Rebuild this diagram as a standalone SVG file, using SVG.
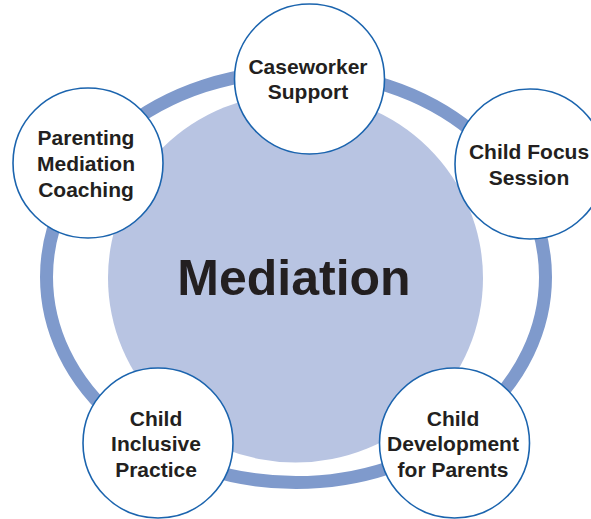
<svg xmlns="http://www.w3.org/2000/svg" width="591" height="519" viewBox="0 0 591 519">
  <style>
    .node { fill: #ffffff; stroke: #1b64ae; stroke-width: 1.6; }
    .lbl { font-family: "Liberation Sans", Arial, sans-serif; font-weight: bold; font-size: 21px; fill: #231f20; text-anchor: middle; }
    .big { font-family: "Liberation Sans", Arial, sans-serif; font-weight: bold; font-size: 50px; fill: #231f20; text-anchor: middle; }
  </style>
  <rect width="591" height="519" fill="#ffffff"/>
  <g id="ring">
    <ellipse cx="296" cy="277" rx="249.5" ry="205.5" fill="none" stroke="#7f9acc" stroke-width="13"/>
  </g>
  <g id="center">
    <ellipse cx="295.5" cy="278" rx="187.5" ry="184.5" fill="#b8c4e2"/>
    <text class="big" x="294" y="295">Mediation</text>
  </g>
  <g id="connectors"></g>
  <g id="caseworker-support">
    <circle class="node" cx="309.5" cy="79" r="75"/>
    <text class="lbl" x="308" y="74">Caseworker</text>
    <text class="lbl" x="308" y="99">Support</text>
  </g>
  <g id="parenting-mediation-coaching">
    <circle class="node" cx="88" cy="163" r="75"/>
    <text class="lbl" x="86" y="145">Parenting</text>
    <text class="lbl" x="86" y="171">Mediation</text>
    <text class="lbl" x="86" y="197">Coaching</text>
  </g>
  <g id="child-focus-session">
    <circle class="node" cx="530" cy="164" r="75"/>
    <text class="lbl" x="529" y="159">Child Focus</text>
    <text class="lbl" x="529" y="185">Session</text>
  </g>
  <g id="child-inclusive-practice">
    <circle class="node" cx="158" cy="443" r="75"/>
    <text class="lbl" x="156" y="426">Child</text>
    <text class="lbl" x="156" y="451">Inclusive</text>
    <text class="lbl" x="156" y="477">Practice</text>
  </g>
  <g id="child-development-for-parents">
    <circle class="node" cx="454.5" cy="443" r="75"/>
    <text class="lbl" x="453" y="426">Child</text>
    <text class="lbl" x="453" y="451">Development</text>
    <text class="lbl" x="453" y="477">for Parents</text>
  </g>
</svg>
